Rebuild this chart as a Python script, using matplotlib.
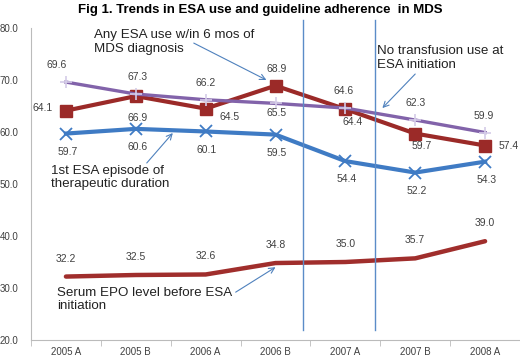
import numpy as np
import matplotlib.pyplot as plt

periods = ['2005 A', '2005 B', '2006 A', '2006 B', '2007 A', '2007 B', '2008 A']
any_esa = [69.6, 67.3, 66.2, 65.5, 64.6, 62.3, 59.9]
no_transf = [64.1, 66.9, 64.5, 68.9, 64.4, 59.7, 57.4]
first_ep = [59.7, 60.6, 60.1, 59.5, 54.4, 52.2, 54.3]
serum_epo = [32.2, 32.5, 32.6, 34.8, 35.0, 35.7, 39.0]

plt.rcParams['font.family'] = ['Liberation Sans', 'DejaVu Sans']

fig = plt.figure(figsize=(5.2, 3.57), dpi=100)
ax = fig.add_axes([31/520, 17/357, 489/520, 312/357])
x = np.arange(len(periods))

ax.plot(x, serum_epo, color='#A02E2C', lw=3.2, solid_capstyle='round')
ax.plot(x, first_ep, color='#3F7BC4', lw=3.0, marker='x', ms=8, mew=1.3)
ax.plot(x, no_transf, color='#9B2A28', lw=3.0, marker='s', ms=8)
ax.plot(x, any_esa, color='#8263AA', lw=2.4, marker='+', ms=9, mew=1.2, mec='#D4CCE8')

lab = dict(fontsize=7.5, color='#404040', ha='center', va='center')
# label offsets in points
off_any = [(-7, 12), (1, 12), (0, 12), (1, -7), (-1, 12), (0, 12), (-1, 12)]
off_nt = [(-17, 2), (1, -16), (17, -6), (1, 12), (5, -9), (5, -9), (17, 0)]
for i in x:
    ax.annotate(f'{any_esa[i]:.1f}', (i, any_esa[i]), xytext=off_any[i], textcoords='offset points', **lab)
    ax.annotate(f'{no_transf[i]:.1f}', (i, no_transf[i]), xytext=off_nt[i], textcoords='offset points', **lab)
    ax.annotate(f'{first_ep[i]:.1f}', (i, first_ep[i]), xytext=(1, -13), textcoords='offset points', **lab)
    ax.annotate(f'{serum_epo[i]:.1f}', (i, serum_epo[i]), xytext=(0, 13), textcoords='offset points', **lab)

# period separators
for xv in [3.40, 4.42]:
    ax.plot([xv, xv], [21.9, 81.5], color='#5B8CC8', lw=1.0, clip_on=False)

txt = dict(fontsize=9.6, color='#222222', ha='left', va='center', linespacing=1.2)
arr = dict(arrowstyle='->', color='#4F81BD', lw=0.8, shrinkA=0, shrinkB=0)
ax.text(0.40, 77.3, 'Any ESA use w/in 6 mos of\nMDS diagnosis', **txt)
ax.annotate('', xy=(2.87, 70.0), xytext=(1.83, 77.1), arrowprops=arr)
ax.text(4.46, 74.3, 'No transfusion use at\nESA initiation', **txt)
ax.annotate('', xy=(4.53, 64.6), xytext=(5.0, 71.15), arrowprops=arr)
ax.text(-0.21, 51.25, '1st ESA episode of\ntherapeutic duration', **txt)
ax.annotate('', xy=(1.53, 59.8), xytext=(1.157, 54.04), arrowprops=arr)
ax.text(-0.13, 27.8, 'Serum EPO level before ESA\ninitiation', **txt)
ax.annotate('', xy=(3.0, 34.0), xytext=(2.43, 29.2), arrowprops=arr)

ax.set_xlim(-0.5, 6.5)
ax.set_ylim(20, 80)
ax.set_yticks(np.arange(20, 81, 10))
ax.set_yticklabels([f'{v:.1f}' for v in range(20, 81, 10)])
ax.set_xticks(x)
ax.set_xticklabels(periods)
ax.set_xticks(np.arange(-0.5, 7, 1), minor=True)
ax.tick_params(axis='y', length=0, pad=9, labelsize=7, labelcolor='#404040')
ax.tick_params(axis='x', which='major', length=0, pad=5, labelsize=7, labelcolor='#404040')
ax.tick_params(axis='x', which='minor', length=4, color='#BBBBBB')
for s in ['top', 'right']:
    ax.spines[s].set_visible(False)
for s in ['left', 'bottom']:
    ax.spines[s].set_color('#BBBBBB')

fig.text(0.5, 0.972, 'Fig 1. Trends in ESA use and guideline adherence  in MDS',
         ha='center', va='center', fontsize=9.5, fontweight='bold')

fig.savefig('out.png', dpi=100)
